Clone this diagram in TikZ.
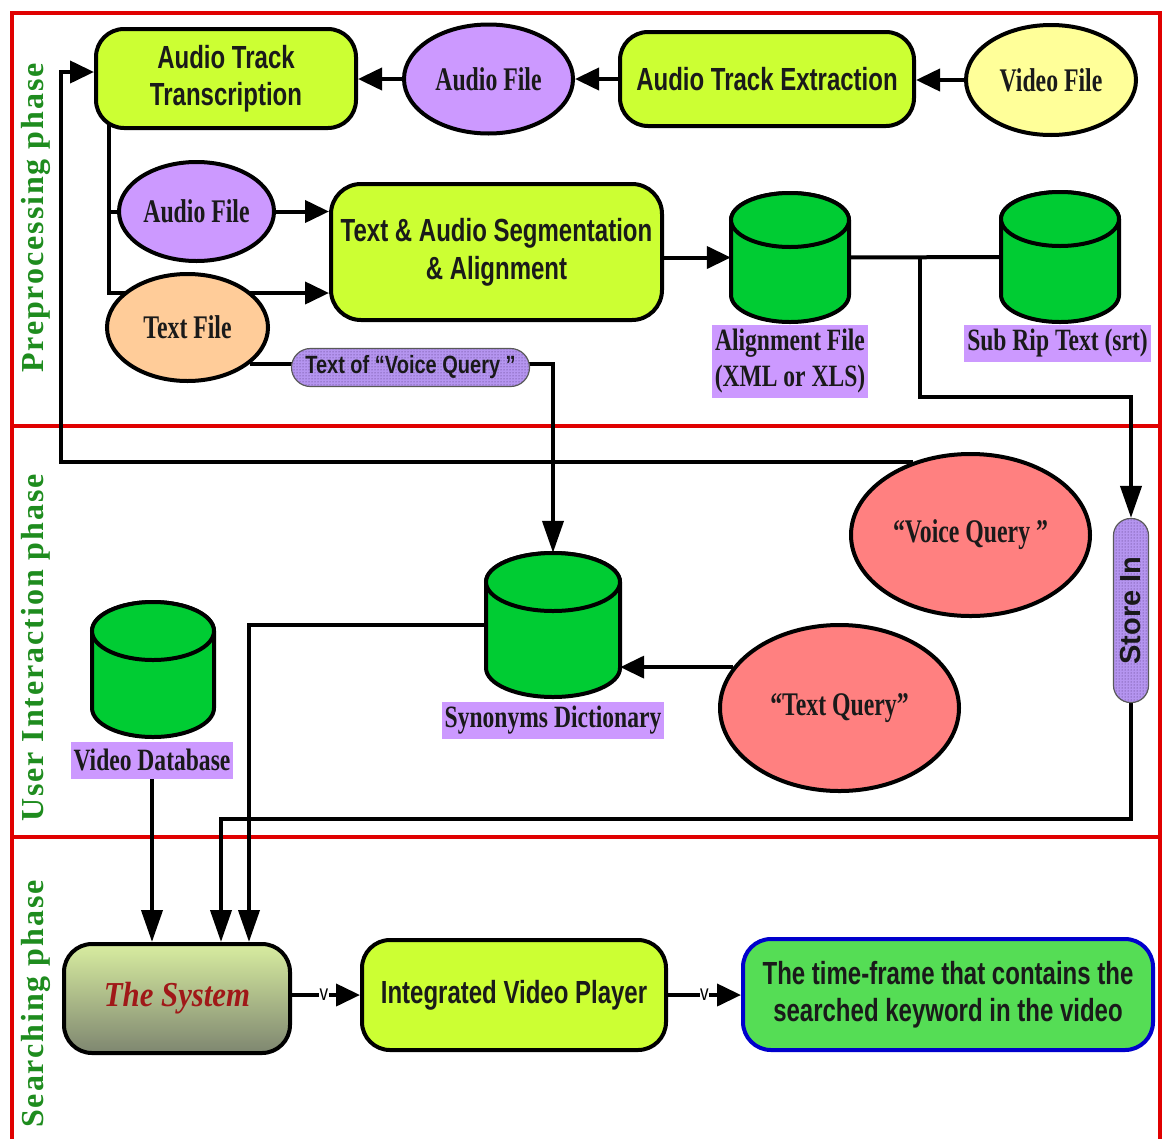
\documentclass[tikz,border=0pt]{standalone}
\usepackage{fontspec}
\usepackage{graphicx}
\setmainfont{Liberation Serif}
\newfontfamily\boxfont[FakeStretch=0.75]{Liberation Sans}
\newfontfamily\ellfont[FakeStretch=0.72]{Liberation Serif}
\newfontfamily\lblfont[FakeStretch=0.76]{Liberation Serif}
\newfontfamily\phasefont[LetterSpace=6]{Liberation Serif}
\newfontfamily\pillfont[FakeStretch=0.8]{Liberation Sans}
\newfontfamily\sysfont[FakeStretch=0.88]{Liberation Serif}
\newfontfamily\markfont[FakeStretch=0.78]{Liberation Sans}
\usetikzlibrary{arrows.meta,patterns,backgrounds,shapes.geometric,calc}

\definecolor{limefill}{HTML}{CCFF33}
\definecolor{lilac}{HTML}{CC99FF}
\definecolor{peach}{HTML}{FFCC99}
\definecolor{paleyellow}{HTML}{FFFF99}
\definecolor{dbgreen}{HTML}{00CC33}
\definecolor{salmonfill}{HTML}{FF8080}
\definecolor{framered}{HTML}{E00000}
\definecolor{phasegreen}{HTML}{1E8C1E}
\definecolor{resultgreen}{HTML}{55DD55}
\definecolor{resultblue}{HTML}{0000CC}
\definecolor{pillbase}{HTML}{B595F0}
\definecolor{pilldots}{HTML}{4A2E70}
\definecolor{systop}{HTML}{D8EDA0}
\definecolor{sysbot}{HTML}{7E8670}
\definecolor{sysred}{HTML}{A01818}
\definecolor{inktext}{HTML}{1A1A1A}

\tikzset{
  every node/.style={inner sep=0pt},
  procbox/.style={draw, line width=4pt, rounded corners=28pt, fill=limefill,
    align=center, text=inktext, font=\boxfont\bfseries\fontsize{32}{37}\selectfont},
  fileell/.style={ellipse, draw, line width=4pt, text=inktext,
    font=\ellfont\bfseries\fontsize{33}{36}\selectfont},
  dblabel/.style={fill=lilac, inner xsep=3pt, inner ysep=4pt, minimum height=37pt,
    align=center, text=inktext, font=\lblfont\bfseries\fontsize{31}{36}\selectfont},
  dbshape/.style={draw, line width=4pt, fill=dbgreen},
  conn/.style={line width=4pt},
  harrow/.style={conn, -{Triangle[length=24pt,width=22pt]}},
  varrow/.style={conn, -{Triangle[length=32pt,width=21pt]}},
  pill/.style={draw=black!65, line width=1.2pt, preaction={fill=pillbase},
    pattern=dots, pattern color=pilldots, text=black!90},
  framebox/.style={draw=framered, line width=4pt},
  phase/.style={rotate=90, text=phasegreen,
    font=\phasefont\bfseries\fontsize{32}{36}\selectfont},
  vmark/.style={fill=white, inner sep=0.5pt, font=\markfont\fontsize{22}{24}\selectfont},
}

% database cylinder: name, left, right, top, bottom, half height of the cap
\newcommand\drawdb[6]{%
  \pgfmathsetmacro\dbcx{(#2+#3)/2}%
  \pgfmathsetmacro\dbrx{(#3-#2)/2}%
  \filldraw[dbshape] ({#2},{#4+#6}) -- ({#2},{#5-#6})
    arc[start angle=180,end angle=0,x radius=\dbrx,y radius=#6]
    -- ({#3},{#4+#6})
    arc[start angle=0,end angle=-180,x radius=\dbrx,y radius=#6] -- cycle;
  \draw[dbshape] (\dbcx,{#4+#6}) ellipse[x radius=\dbrx,y radius=#6];
  \node[minimum width={#3-#2}, minimum height={#5-#4}] (#1) at (\dbcx,{(#4+#5)/2}) {};
}

\begin{document}
\begin{tikzpicture}[x=1pt,y=-1pt]
\useasboundingbox (0,0) rectangle (1164,1138);

% ---------- Preprocessing phase ----------
\node[procbox, minimum width=260pt, minimum height=99pt] (trans) at (226,78.5)
  {Audio Track\\Transcription};
\node[fileell, fill=lilac, minimum width=169pt, minimum height=109pt] (audio1) at (488.5,79) {Audio File};
\node[procbox, minimum width=294pt, minimum height=94pt] (extract) at (767,79) {Audio Track Extraction};
\node[fileell, fill=paleyellow, minimum width=170pt, minimum height=110pt] (videof) at (1051,80) {Video File};
\node[fileell, fill=lilac, minimum width=155pt, minimum height=99pt] (audio2) at (196.5,211.5) {Audio File};
\node[fileell, fill=peach, minimum width=161pt, minimum height=107pt] (textf) at (187.5,327.5) {Text File};
\node[procbox, rounded corners=30pt, minimum width=331pt, minimum height=136pt] (seg) at (496.5,252)
  {Text \& Audio Segmentation\\[1pt]\& Alignment};

\drawdb{align}{731}{849}{193}{322}{27}
\drawdb{subrip}{1001}{1119}{192}{322}{27}
\node[dblabel] (alignlbl) at (790,361.5) {Alignment File\\(XML or XLS)};
\node[dblabel] (sublbl) at (1057.5,343.5) {Sub Rip Text (srt)};

\node[pill, rounded corners=19pt, minimum width=238pt, minimum height=38pt,
  font=\pillfont\bfseries\fontsize{25}{27}\selectfont] (vqpill) at (410.5,367.5)
  {Text of “Voice Query ”};

% ---------- User interaction phase ----------
\node[fileell, fill=salmonfill, minimum width=239pt, minimum height=162pt] (voice) at (970.5,535) {“Voice Query ”};
\node[fileell, fill=salmonfill, minimum width=239pt, minimum height=166pt] (textq) at (839.5,708) {“Text Query”};
\drawdb{syn}{486}{620}{553}{697}{29}
\node[dblabel] (synlbl) at (553,720) {Synonyms Dictionary};
\drawdb{vdb}{92}{214}{602}{737}{29}
\node[dblabel] (vdblbl) at (152,760) {Video Database};
\node[pill, rounded corners=17pt, minimum width=35pt, minimum height=184pt,
  font=\boxfont\bfseries\fontsize{29}{30}\selectfont] (store) at (1131,610.5)
  {\rotatebox{90}{\addfontfeatures{FakeStretch=1}Store In}};

% ---------- Searching phase ----------
\node[draw, line width=4pt, rounded corners=28pt, top color=systop, bottom color=sysbot,
  minimum width=226pt, minimum height=109pt, text=sysred,
  font=\sysfont\bfseries\itshape\fontsize{35}{36}\selectfont] (sys) at (177,998.5) {The System};
\node[procbox, minimum width=304pt, minimum height=110pt] (player) at (514,995) {Integrated Video Player};
\node[procbox, fill=resultgreen, draw=resultblue, minimum width=410pt, minimum height=111pt,
  font=\boxfont\bfseries\fontsize{32}{37}\selectfont] (result) at (948,994.5)
  {The time-frame that contains the\\searched keyword in the video};

% phase titles
\node[phase] (ph1) at (36,218) {Preprocessing phase};
\node[phase] (ph2) at (36,648) {User Interaction phase};
\node[phase] (ph3) at (36,1004) {Searching phase};

\begin{scope}[on background layer]
  \fill[white] (0,0) rectangle (1164,1138);
  \draw[framebox] (12,13) rectangle (1160,426);
  \draw[framebox] (12,426) rectangle (1160,837);
  \draw[framebox] (12,837) rectangle (1160,1160);

  % top row
  \draw[harrow] (videof.west) -- (videof.west -| extract.east);
  \draw[harrow] (extract.west) -- (extract.west -| audio1.east);
  \draw[harrow] (audio1.west) -- (audio1.west -| trans.east);

  % transcription outputs
  \coordinate (tk) at (109,293);
  \draw[harrow] (trans.center -| tk) -- (tk) -- (tk -| seg.west);
  \draw[conn] (tk |- audio2.center) -- (audio2.center);
  \draw[harrow] (audio2.east) -- (audio2.east -| seg.west);

  % segmentation to storage
  \draw[harrow] (seg.east |- align.west) -- (align.west);
  \draw[conn] (align.east) -- (subrip.west);
  \coordinate (ak) at (920,397);
  \coordinate (sk) at (1131,397);
  \draw[varrow] (ak |- align.east) -- (ak) -- (sk) -- (store.north);

  % voice query text to the dictionary
  \draw[varrow] (textf.-30) -| (syn.north);

  % voice query back to transcription
  \coordinate (vk) at (61,72);
  \draw[harrow] (voice.128) -| (vk) -- (vk -| trans.west);

  % text query to dictionary
  \draw[harrow] (textq.159) -- (textq.159 -| syn.east);

  % inputs of the system
  \coordinate (qk) at (221,819);
  \draw[varrow] (store.south) |- (qk) -- (qk |- sys.north);
  \coordinate (dk) at (249,625);
  \draw[varrow] (syn.west) -- (dk) -- (dk |- sys.north);
  \draw[varrow] (vdblbl.south) -- (vdblbl.south |- sys.north);

  % output chain
  \draw[harrow] (sys.east |- player.west) -- node[vmark, pos=0.47] (v1) {v} (player.west);
  \draw[harrow] (player.east) -- node[vmark, pos=0.5] (v2) {v} (player.east -| result.west);
\end{scope}
\end{tikzpicture}
\end{document}
